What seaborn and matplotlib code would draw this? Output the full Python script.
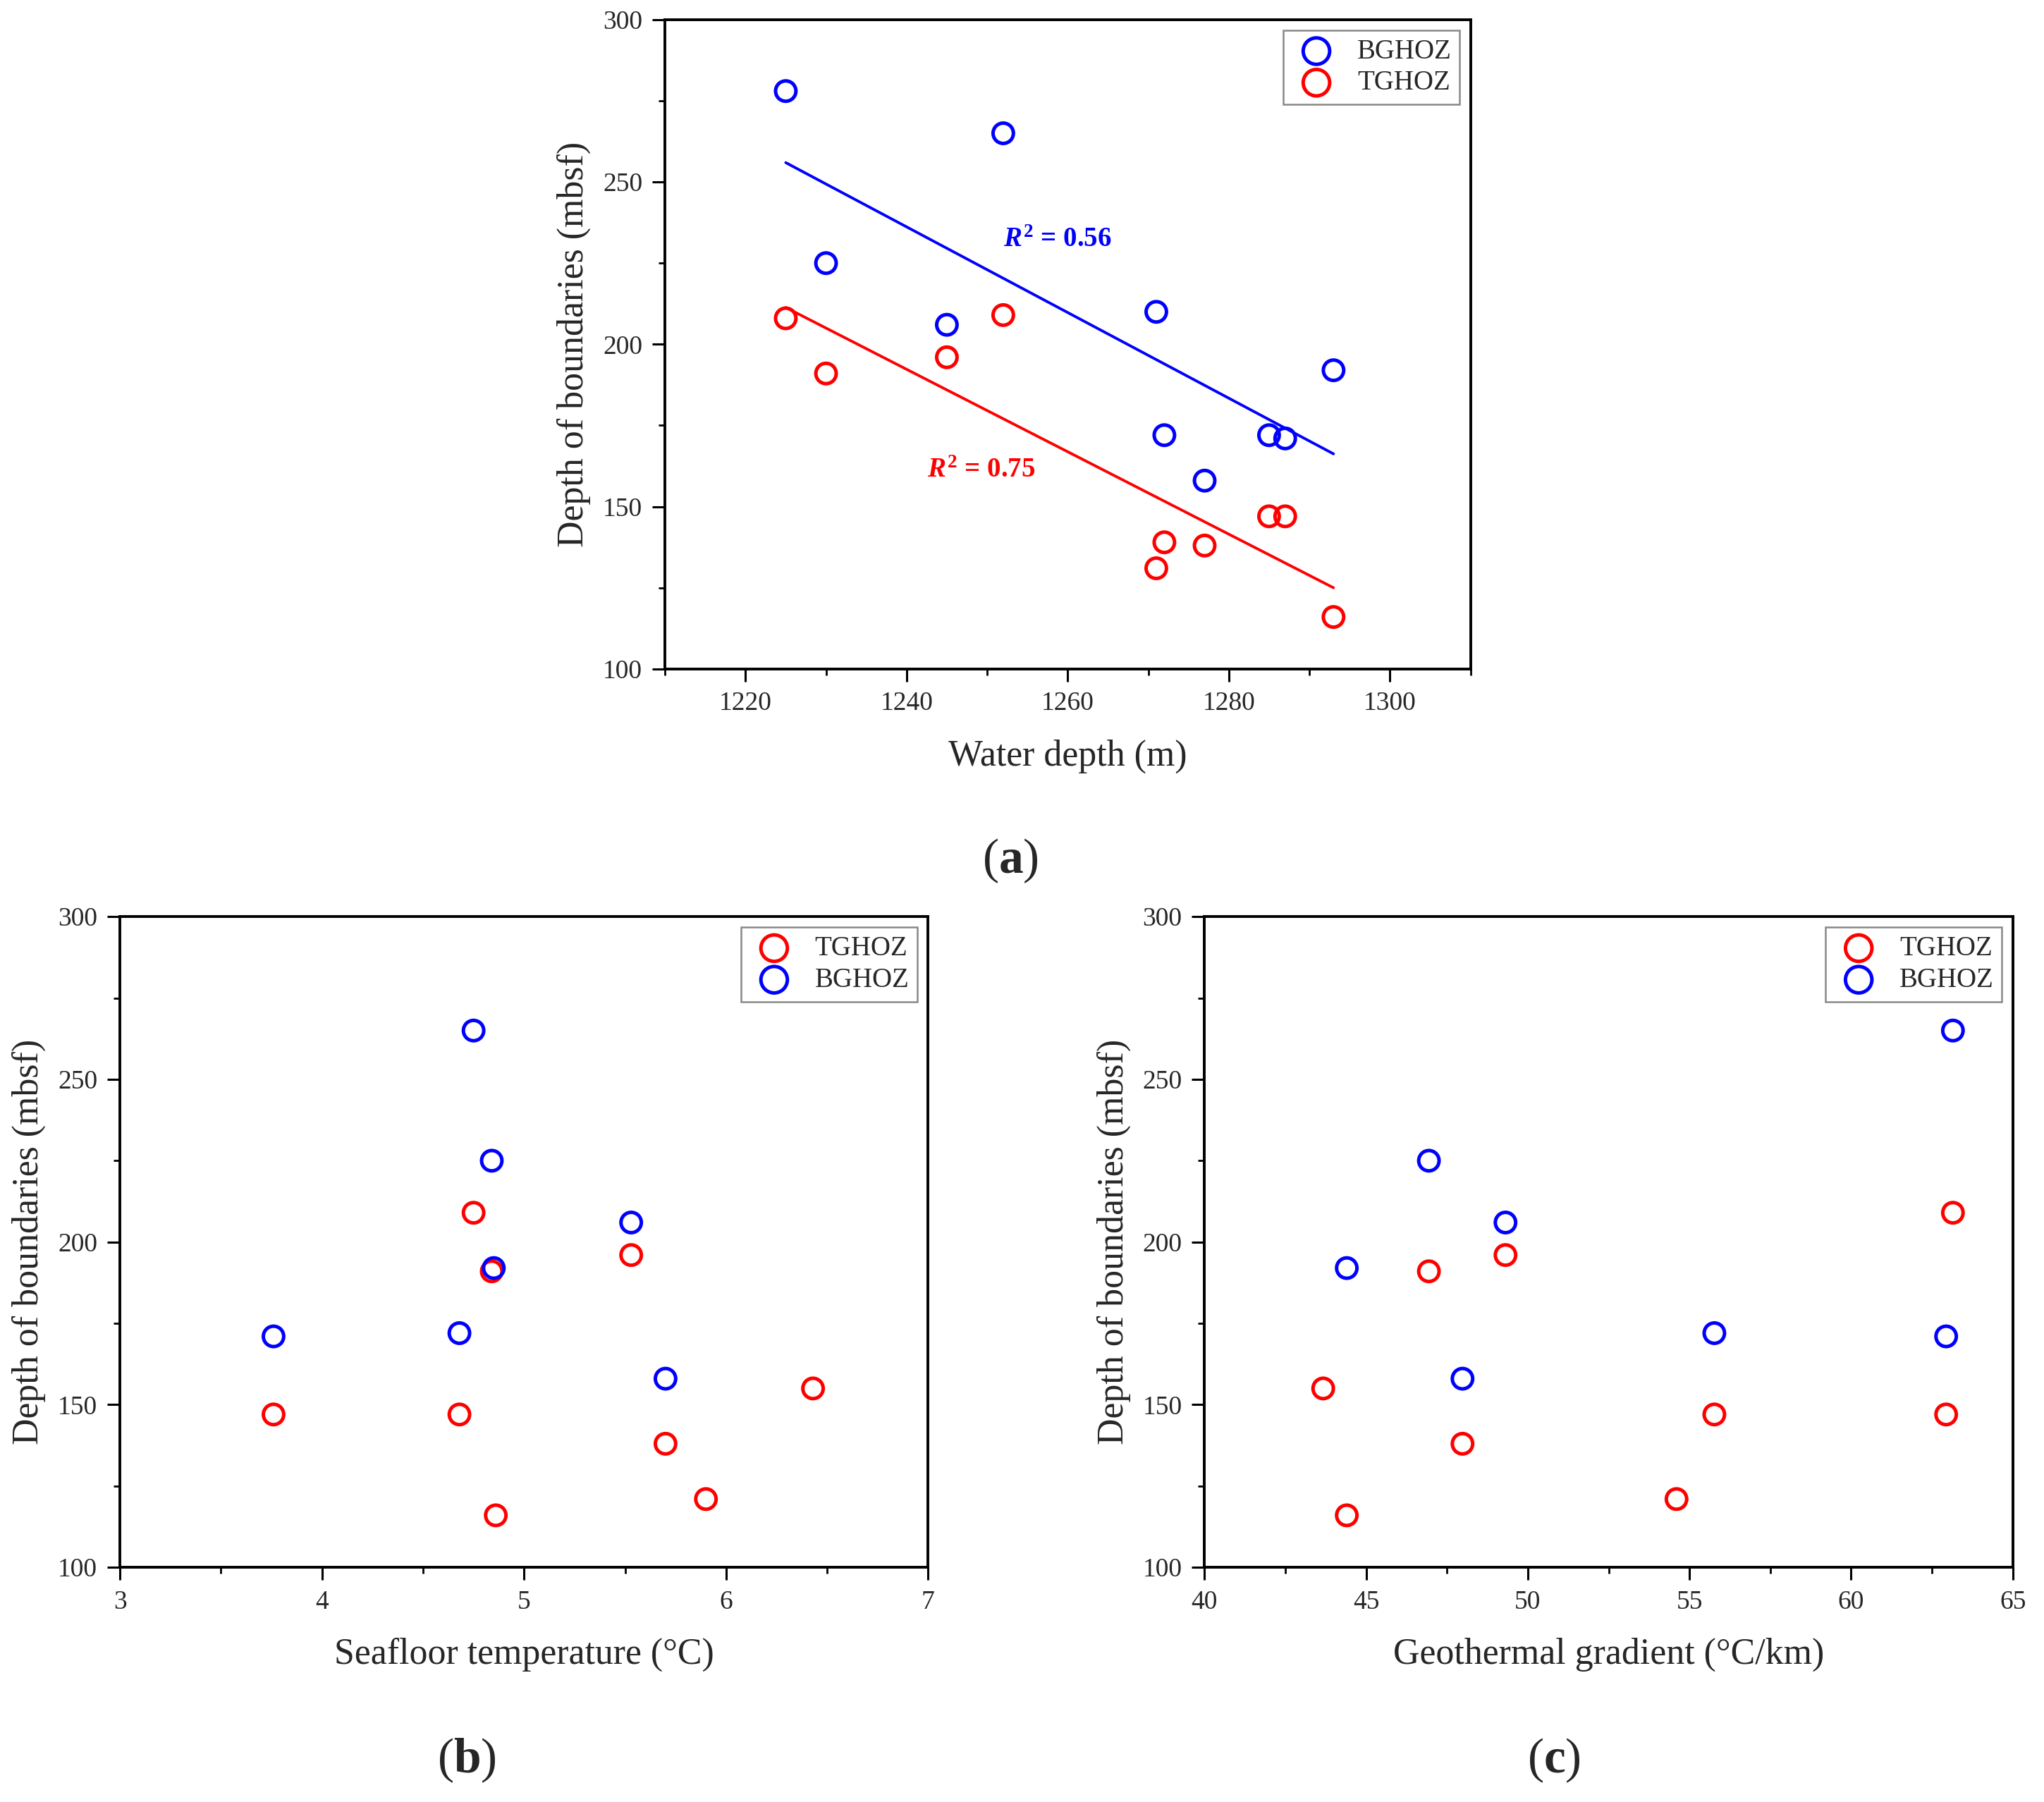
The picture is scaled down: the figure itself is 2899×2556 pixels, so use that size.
import matplotlib
matplotlib.use("Agg")
import matplotlib.pyplot as plt
from matplotlib.ticker import MultipleLocator
import seaborn as sns

# ---------------- data ----------------
water_depth = [1225, 1230, 1245, 1252, 1271, 1272, 1277, 1285, 1287, 1293]
bghoz_a = [278, 225, 206, 265, 210, 172, 158, 172, 171, 192]
tghoz_a = [208, 191, 196, 209, 131, 139, 138, 147, 147, 116]

temp_bghoz = [4.75, 4.84, 5.53, 4.85, 3.76, 4.68, 5.70]
depth_bghoz_b = [265, 225, 206, 192, 171, 172, 158]
temp_tghoz = [4.75, 4.84, 5.53, 3.76, 4.68, 4.86, 5.70, 5.90, 6.43]
depth_tghoz_b = [209, 191, 196, 147, 147, 116, 138, 121, 155]

grad_bghoz = [63.15, 46.94, 49.31, 44.40, 55.77, 62.94, 47.98]
depth_bghoz_c = [265, 225, 206, 192, 172, 171, 158]
grad_tghoz = [63.15, 46.94, 49.31, 43.67, 44.40, 47.98, 54.60, 55.77, 62.94]
depth_tghoz_c = [209, 191, 196, 155, 116, 138, 121, 147, 147]

r2_labels = ["0.56", "0.75"]

# ---------------- style ----------------
sns.set_style("ticks")
plt.rcParams["font.family"] = ["Liberation Serif", "DejaVu Serif"]
plt.rcParams["mathtext.fontset"] = "custom"
plt.rcParams["mathtext.rm"] = "Liberation Serif"
plt.rcParams["mathtext.it"] = "Liberation Serif:italic:bold"
plt.rcParams["mathtext.bf"] = "Liberation Serif:bold"

fig = plt.figure(figsize=(2899 / 200, 2556 / 200), dpi=200)

ax_a = fig.add_axes([0.3253, 0.6288, 0.3941, 0.3603])
ax_b = fig.add_axes([0.0587, 0.1302, 0.3954, 0.3611])
ax_c = fig.add_axes([0.5893, 0.1302, 0.3954, 0.3611])

BLUE = "#0000ff"
RED = "#ff0000"
MS = 108
MEW = 1.8


def scatter(ax, x, y, color, label):
    sns.scatterplot(x=x, y=y, ax=ax, marker="o", s=MS, facecolors="none",
                    edgecolor=color, linewidth=MEW, label=label, zorder=3)


def style_axes(ax, xlim, xmaj, xmin, xlabel):
    ax.set_xlim(*xlim)
    ax.set_ylim(100, 300)
    ax.xaxis.set_major_locator(MultipleLocator(xmaj))
    ax.xaxis.set_minor_locator(MultipleLocator(xmin))
    ax.yaxis.set_major_locator(MultipleLocator(50))
    ax.yaxis.set_minor_locator(MultipleLocator(25))
    ax.tick_params(which="major", direction="out", length=6.5, width=1.1,
                   labelsize=13.5, color="black", pad=5)
    ax.tick_params(which="minor", direction="out", length=3.3, width=1.0,
                   color="black")
    ax.tick_params(top=False, right=False, which="both")
    for sp in ax.spines.values():
        sp.set_visible(True)
        sp.set_linewidth(1.4)
        sp.set_color("black")
    ax.set_xlabel(xlabel, fontsize=18.7, labelpad=12)
    ax.set_ylabel("Depth of boundaries (mbsf)", fontsize=18.7, labelpad=6)
    leg = ax.legend(loc="upper right", fontsize=14, frameon=True, fancybox=False,
                    edgecolor="#888888", framealpha=1, borderaxespad=0.39,
                    handletextpad=0.57, labelspacing=0.2, borderpad=0.3,
                    handlelength=1.83, markerscale=1.3)
    leg.get_frame().set_linewidth(0.9)


# ---------------- panel (a) ----------------
scatter(ax_a, water_depth, bghoz_a, BLUE, "BGHOZ")
scatter(ax_a, water_depth, tghoz_a, RED, "TGHOZ")
sns.regplot(x=water_depth, y=bghoz_a, ax=ax_a, scatter=False, ci=None,
            color=BLUE, line_kws={"linewidth": 1.4})
sns.regplot(x=water_depth, y=tghoz_a, ax=ax_a, scatter=False, ci=None,
            color=RED, line_kws={"linewidth": 1.4})
ax_a.text(1252, 232, r"$\mathit{R}^{\mathbf{2}}$ = " + r2_labels[0], color=BLUE,
          fontsize=14, fontweight="bold", ha="left", va="center")
ax_a.text(1242.6, 161, r"$\mathit{R}^{\mathbf{2}}$ = " + r2_labels[1], color=RED,
          fontsize=14, fontweight="bold", ha="left", va="center")
style_axes(ax_a, (1210, 1310), 20, 10, "Water depth (m)")

# ---------------- panel (b) ----------------
scatter(ax_b, temp_tghoz, depth_tghoz_b, RED, "TGHOZ")
scatter(ax_b, temp_bghoz, depth_bghoz_b, BLUE, "BGHOZ")
style_axes(ax_b, (3, 7), 1, 0.5, "Seafloor temperature (\u00b0C)")

# ---------------- panel (c) ----------------
scatter(ax_c, grad_tghoz, depth_tghoz_c, RED, "TGHOZ")
scatter(ax_c, grad_bghoz, depth_bghoz_c, BLUE, "BGHOZ")
style_axes(ax_c, (40, 65), 5, 2.5, "Geothermal gradient (\u00b0C/km)")

# ---------------- panel letters ----------------
for lab, x, y in [("a", 0.4943, 0.5224), ("b", 0.2283, 0.0232), ("c", 0.7602, 0.0232)]:
    fig.text(x, y, "(" + r"$\mathbf{" + lab + "}$" + ")", fontsize=25,
             ha="center", va="center")

fig.savefig("out.png", dpi=200, facecolor="white")
